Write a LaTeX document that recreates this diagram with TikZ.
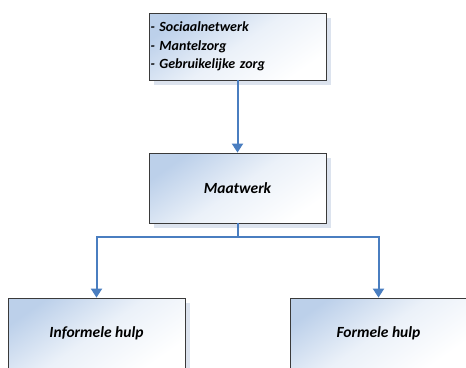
\documentclass[tikz,border=0pt]{standalone}
\usepackage{fontspec}
\setmainfont{Carlito}
\usetikzlibrary{arrows.meta,shadows}
\definecolor{boxblue}{HTML}{BCD0EA}
\definecolor{shadowcol}{HTML}{DCE3EE}
\definecolor{arrowblue}{HTML}{4A7EC0}
\definecolor{edgegray}{HTML}{3A3A3A}
\tikzset{
  box/.style={draw=edgegray, line width=0.8pt, minimum width=177pt, inner sep=0pt,
    shading=axis, top color=boxblue, bottom color=white, middle color=white!70!boxblue, shading angle=35,
    drop shadow={shadow xshift=5pt, shadow yshift=-5pt, fill=shadowcol, opacity=1},
    font=\bfseries\itshape\fontsize{15.5}{18.5}\selectfont},
  conn/.style={draw=arrowblue, line width=2pt, -{Triangle[length=9pt,width=11pt]}}
}
\begin{document}
\begin{tikzpicture}[x=1pt,y=-1pt]
\useasboundingbox (0,0) rectangle (466,367);
\clip (0,0) rectangle (466,367);
\node[box, minimum height=67pt, text width=174pt, align=left,
  font=\bfseries\itshape\fontsize{14}{18.5}\selectfont] (src) at (237.5,46.5)
  {- Sociaalnetwerk\\- Mantelzorg\\- Gebruikelijke zorg};
\node[box, minimum height=70pt] (mw) at (237.5,188) {Maatwerk};
\node[box, minimum height=70pt] (inf) at (96.5,333) {Informele hulp};
\node[box, minimum height=70pt] (form) at (378.5,333) {Formele hulp};
\coordinate (split) at (237.5,237);
\draw[conn] (src.south) -- (mw.north);
\draw[conn] (mw.south) -- (split) -| (inf.north);
\draw[conn] (split) -| (form.north);
\end{tikzpicture}
\end{document}
